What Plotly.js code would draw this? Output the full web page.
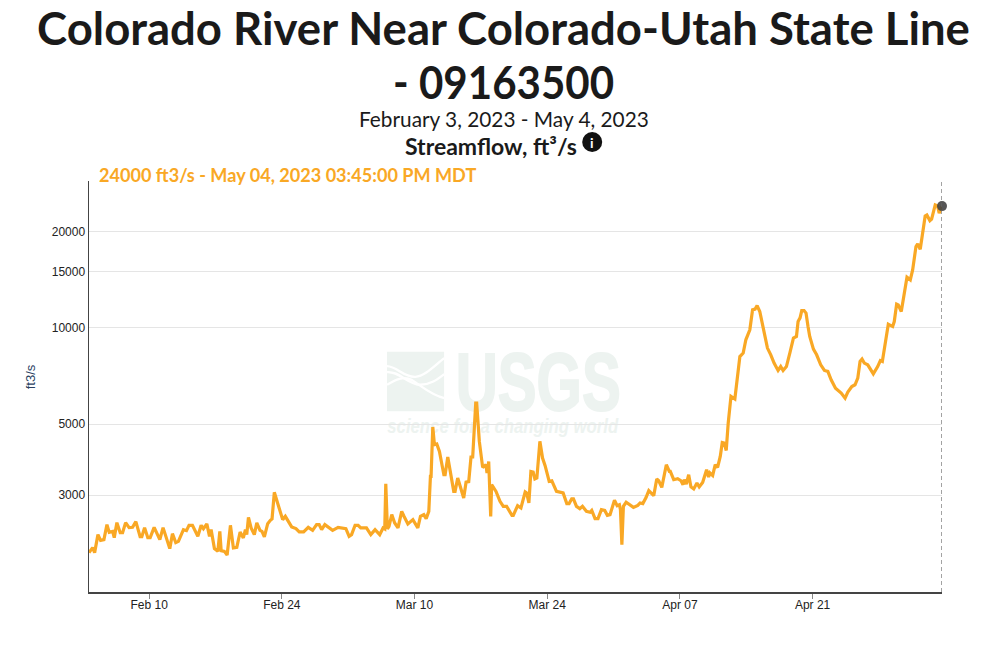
<!DOCTYPE html>
<html><head><meta charset="utf-8">
<script src="https://cdn.plot.ly/plotly-3.0.1.min.js"></script>
<style>html,body{margin:0;padding:0;background:#fff}#chart{width:998px;height:646px}</style>
</head><body><div id="chart"></div>
<script>
// days since 2023-02-04 00:00
const dayOffsets = [-0.34,0.04,0.25,0.60,0.88,1.23,1.55,1.79,2.15,2.32,2.60,2.95,3.20,3.52,3.89,4.25,4.60,5.05,5.23,5.52,5.86,6.11,6.53,7.13,7.47,8.18,8.46,8.81,9.09,9.62,9.94,10.21,10.57,
11.14,11.49,11.73,12.09,12.37,12.54,12.89,13.25,13.46,13.60,13.94,14.23,14.58,14.89,15.25,15.60,15.94,16.16,16.30,16.48,16.76,17.10,17.36,17.70,17.91,18.16,18.51,18.79,18.97,19.21,19.57,19.91,20.09,20.37,20.68,21.04,21.49,21.84,22.30,22.79,23.25,23.67,23.94,24.20,24.54,25.00,25.36,25.94,26.76,27.10,27.36,27.73,28.05,28.33,28.93,29.39,29.84,30.33,30.68,30.86,30.97,31.14,31.31,31.60,31.91,32.26,32.65,32.89,
33.30,33.83,34.35,34.63,34.98,35.23,35.51,35.68,35.75,35.93,36.10,36.35,36.63,37.10,37.23,37.51,38.14,38.28,38.56,39.19,39.44,39.72,39.96,40.14,40.46,40.56,40.84,41.19,41.54,41.65,41.83,42.04,42.14,42.60,43.02,43.37,43.72,44.28,44.42,44.88,45.23,45.68,45.83,46.07,46.28,46.52,46.70,46.91,47.23,47.51,47.78,48.21,48.49,48.98,49.68,50.07,50.31,50.59,50.77,51.09,51.44,51.72,52.14,52.52,52.70,53.05,53.36,53.72,54.07,54.35,54.63,
55.10,55.38,55.62,55.73,55.88,56.04,56.33,56.68,57.10,57.56,57.80,58.09,58.43,58.72,59.24,59.56,59.77,60.09,60.36,60.57,60.89,60.99,61.35,61.77,62.12,62.33,62.47,62.68,62.93,63.17,63.46,63.80,64.04,64.40,64.82,65.03,65.17,65.46,65.73,65.98,66.26,66.47,66.68,66.89,67.10,67.39,67.80,68.09,68.33,68.68,68.96,69.38,69.67,69.94,70.15,70.43,70.82,71.24,71.59,71.94,72.36,72.64,72.89,73.24,73.62,73.98,74.30,74.47,74.68,74.86,75.10,75.31,75.52,75.70,76.09,76.43,76.86,
77.25,77.61,77.96,78.42,79.02,79.43,79.72,80.14,80.48,80.77,81.01,81.22,81.46,81.82,82.41,82.87,83.15,83.36,83.64,83.99,84.45,84.62,84.87,85.04,85.36,85.75,85.96,86.31,86.56,86.91,87.09,87.36,87.61,87.88,88.06,88.38,88.56,88.94,89.19,89.36,89.656];

const flowCfs = [1985,2058,1986,2260,2169,2180,2429,2298,2314,2212,2464,2293,2293,2464,2377,2382,2482,2228,2228,2377,2212,2212,2382,2180,2377,2044,2276,2134,2154,2343,2326,2417,2417,
2233,2417,2360,2441,2233,2343,2044,2004,2314,2014,2004,1953,2417,2054,2063,2304,2207,2343,2260,2560,2372,2260,2459,2331,2314,2223,2446,2505,2530,3064,2804,2610,2518,2578,2488,2389,2360,2304,2304,2382,2331,2429,2429,2343,2429,2382,2331,2382,2360,2233,2260,2417,2417,2372,2372,2260,2343,2260,2372,2355,3260,2355,2400,2610,2459,2372,2673,2580,
2441,2518,2372,2580,2610,2536,2673,3436,3436,4901,4315,4337,4112,3478,3478,3950,3085,3085,3396,2943,3297,3310,3950,3950,5823,5823,4418,3666,3737,3520,3826,2578,3237,3085,2872,2770,2770,2597,2597,2784,2738,3072,3050,2840,3560,3545,3372,3396,4420,3922,3710,3315,3330,3085,3050,2825,2825,2925,2925,2770,2725,2770,2673,2655,2691,2536,2536,2705,2691,2597,2610,
2893,2784,2804,2705,2103,2770,2853,2804,2750,2790,2838,2825,2950,3100,2990,3372,3330,3175,3503,3737,3560,3560,3355,3380,3330,3237,3355,3253,3478,3185,3140,3277,3185,3291,3605,3420,3522,3460,3737,3665,3965,4386,4368,4140,5044,6106,5992,7223,8134,8340,9175,9858,11382,11440,11738,11245,9858,8645,8237,7760,7360,7572,7360,7572,8388,9285,9400,10465,10745,11325,11325,11120,10095,9400,8580,8237,7666,
7360,7310,6883,6480,6255,6033,6300,6560,6640,6965,7850,7985,7760,7666,7185,7570,7900,7850,8740,10270,10095,10465,11860,11798,11245,13450,14390,14120,15171,17940,18290,17590,19740,22350,22520,21620,21850,24200,24030,22830,24000];

const yTickVals = [3000,5000,10000,15000,20000];
const xTickVals = ['2023-02-10','2023-02-24','2023-03-10','2023-03-24','2023-04-07','2023-04-21'];
const xTickText = ['Feb 10','Feb 24','Mar 10','Mar 24','Apr 07','Apr 21'];
const lastDate = '2023-05-04 15:45:00';
const lastFlow = 24000;
const titleLine1 = 'Colorado River Near Colorado-Utah State Line';
const titleLine2 = '- 09163500';
const dateRangeText = 'February 3, 2023 - May 4, 2023';
const paramText = 'Streamflow, ft³/s';
const readoutText = '24000 ft3/s - May 04, 2023 03:45:00 PM MDT';
const yAxisText = 'ft3/s';
const logoWord = 'USGS';
const logoTagline = 'science for a changing world';

const startMs = Date.UTC(2023,1,4);
const dates = dayOffsets.map(d => new Date(startMs + d*864e5).toISOString().replace('T',' ').slice(0,19));

const W=998,H=646,L=88.5,R=942,T=181,B=592.5;
const px = x => (x-L)/(R-L), py = y => (B-y)/(B-T);
const SANS = 'Lato, "Noto Sans", sans-serif';
const ARIAL = '"Liberation Sans",Arial,sans-serif';
const ORANGE = '#f9a825';
const WM = '#edf3f0';

const logo = "data:image/svg+xml;utf8," + encodeURIComponent(
 '<svg xmlns="http://www.w3.org/2000/svg" viewBox="0 0 172 180" preserveAspectRatio="none"><rect width="172" height="180" fill="'+WM+'"/>'+
 '<g fill="none" stroke="#fff" stroke-width="7">'+
 '<path d="M0 44 C30 45 50 78 85 76 C115 74 145 40 172 20"/>'+
 '<path d="M0 62 C35 58 65 100 100 100 C130 100 150 85 172 68"/>'+
 '<path d="M0 100 C25 85 50 72 75 86 C105 104 130 130 172 140"/></g></svg>');

const traces = [
 {x:dates,y:flowCfs,type:'scatter',mode:'lines',line:{color:ORANGE,width:3.2},hoverinfo:'skip',showlegend:false},
 {x:[lastDate],y:[lastFlow],type:'scatter',mode:'markers',marker:{color:'#444',size:10,opacity:.9},hoverinfo:'skip',showlegend:false,cliponaxis:false}
];
const layout = {
 width:W,height:H,paper_bgcolor:'#fff',plot_bgcolor:'rgba(0,0,0,0)',showlegend:false,
 margin:{l:L,r:W-R,t:T,b:H-B,pad:0},
 title:{text:titleLine1,font:{family:SANS,size:45.5,color:'#1a1a1a',weight:700},x:503.5/W,xanchor:'center',xref:'container',y:1-29/H,yanchor:'middle',yref:'container'},
 xaxis:{type:'date',range:['2023-02-03 15:45:00',lastDate],tickmode:'array',tickvals:xTickVals,ticktext:xTickText,ticks:'outside',ticklen:5,tickcolor:'#888',tickwidth:1,ticklabelstandoff:-4,
   showgrid:false,zeroline:false,showline:true,linecolor:'#444',linewidth:1.5,tickfont:{family:ARIAL,size:12,color:'#222'}},
 yaxis:{type:'log',range:[3.175,4.4586],tickmode:'array',tickvals:yTickVals,ticktext:yTickVals.map(String),ticks:'',showgrid:true,gridcolor:'#e5e5e5',gridwidth:1,
   zeroline:false,showline:true,linecolor:'#444',linewidth:1.5,tickfont:{family:ARIAL,size:12,color:'#222'}},
 images:[{source:logo,xref:'paper',yref:'paper',x:px(386.7),y:py(351.7),sizex:57.3/(R-L),sizey:60/(B-T),sizing:'stretch',xanchor:'left',yanchor:'top',layer:'below'}],
 shapes:[
  {type:'line',xref:'x',yref:'paper',x0:lastDate,x1:lastDate,y0:0,y1:1,line:{color:'#666',width:1.2,dash:'4px,3px'}},
  {type:'rect',xref:'paper',yref:'paper',x0:px(455),x1:px(621),y0:py(344),y1:py(404),line:{width:0},fillcolor:'rgba(0,0,0,0)',layer:'below',
   label:{text:logoWord,font:{family:ARIAL,size:82,color:WM,weight:700},textposition:'middle center'}},
  {type:'rect',xref:'paper',yref:'paper',x0:px(386),x1:px(619),y0:py(414),y1:py(435),line:{width:0},fillcolor:'rgba(0,0,0,0)',layer:'below',
   label:{text:logoTagline,font:{family:ARIAL,size:20,color:WM,weight:700,style:'italic'},textposition:'middle center'}},
  {type:'circle',xref:'paper',yref:'paper',xsizemode:'pixel',ysizemode:'pixel',xanchor:px(592),yanchor:py(142),x0:-10,x1:10,y0:-10,y1:10,fillcolor:'#111',line:{width:0}}
 ],
 annotations:[
  {text:titleLine2,xref:'paper',yref:'paper',x:px(503.5),y:py(81),xanchor:'center',yanchor:'middle',showarrow:false,font:{family:SANS,size:45.5,color:'#1a1a1a',weight:700}},
  {text:dateRangeText,xref:'paper',yref:'paper',x:px(504),y:py(118.5),xanchor:'center',yanchor:'middle',showarrow:false,font:{family:SANS,size:20.8,color:'#1a1a1a'}},
  {text:'<b>'+paramText+'</b>',xref:'paper',yref:'paper',x:px(490.5),y:py(146),xanchor:'center',yanchor:'middle',showarrow:false,font:{family:SANS,size:23,color:'#1a1a1a'}},
  {text:'<b>i</b>',xref:'paper',yref:'paper',x:px(592),y:py(142),xanchor:'center',yanchor:'middle',showarrow:false,font:{family:SANS,size:14,color:'#fff'}},
  {text:'<b>'+readoutText+'</b>',xref:'paper',yref:'paper',x:px(96.5),y:py(175),xanchor:'left',yanchor:'middle',showarrow:false,font:{family:SANS,size:18.1,color:ORANGE}},
  {text:yAxisText,xref:'paper',yref:'paper',x:px(30),y:py(377),xanchor:'center',yanchor:'middle',textangle:-90,showarrow:false,font:{family:ARIAL,size:13,color:'#2a3f5f'}}
 ]
};
Plotly.newPlot('chart',traces,layout,{displayModeBar:false,responsive:false,staticPlot:true}).then(() => {
  // the watermark lettering and the station number are narrower than the installed fonts: fit the real text to its width
  document.querySelectorAll('#chart text').forEach(t => {
    const s = t.textContent;
    if (s === logoWord) { t.setAttribute('textLength','165'); t.setAttribute('lengthAdjust','spacingAndGlyphs'); t.style.stroke=WM; t.style.strokeWidth='2px'; }
    if (s === logoTagline) { t.setAttribute('textLength','231'); t.setAttribute('lengthAdjust','spacingAndGlyphs'); }
    if (s === titleLine2) { t.setAttribute('textLength','221'); t.setAttribute('lengthAdjust','spacingAndGlyphs'); }
  });
});
</script></body></html>
